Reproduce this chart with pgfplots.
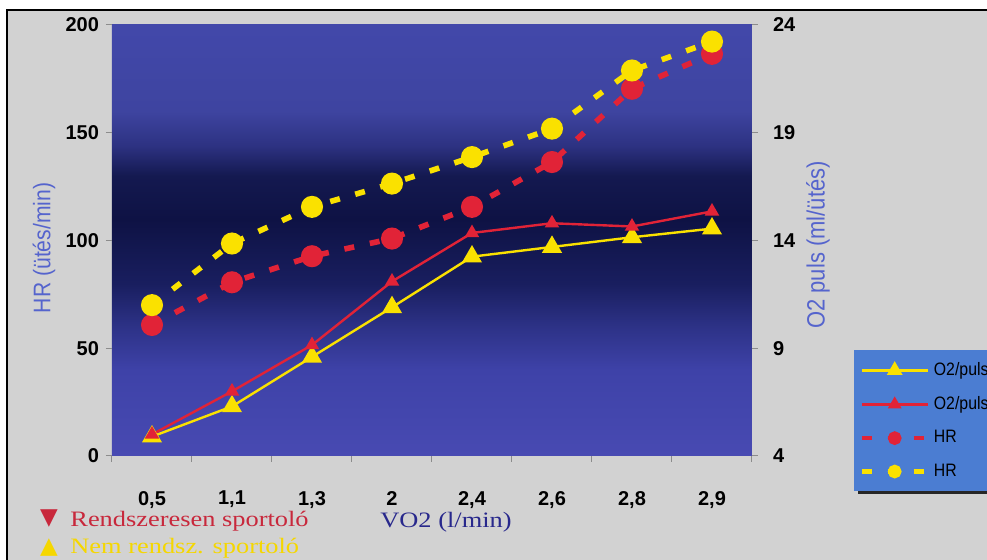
\documentclass[border=0pt]{standalone}
\usepackage{fontspec}
\setmainfont{Liberation Serif}
\setsansfont{Liberation Sans}
\newfontfamily\cond[FakeStretch=0.88]{Liberation Sans}
\newfontfamily\wideserif[FakeStretch=1.2]{Liberation Serif}
\newfontfamily\symf{DejaVu Sans}
\usepackage{pgfplots}
\pgfplotsset{compat=1.18}

\definecolor{hrred}{RGB}{225,35,55}
\definecolor{hryel}{RGB}{250,225,0}
\definecolor{labblue}{RGB}{85,100,205}
\definecolor{vonavy}{RGB}{40,40,140}
\definecolor{txtred}{RGB}{200,40,60}
\definecolor{txtyel}{RGB}{245,215,0}
\definecolor{legblue}{RGB}{75,125,210}
\definecolor{bggray}{RGB}{210,210,210}
\definecolor{sA}{RGB}{72,74,178}
\definecolor{sB}{RGB}{62,66,168}
\definecolor{sC}{RGB}{45,50,135}
\definecolor{sD}{RGB}{25,30,95}
\definecolor{sE}{RGB}{14,18,68}
\definecolor{sF}{RGB}{20,25,80}
\definecolor{sG}{RGB}{45,50,130}
\definecolor{sH}{RGB}{62,68,160}
\definecolor{sI}{RGB}{66,72,170}
\pgfdeclareverticalshading{plotbg}{100bp}{color(0bp)=(sA); color(25bp)=(sA); color(35bp)=(sB); color(40bp)=(sC); color(45bp)=(sD); color(52.5bp)=(sE); color(57.5bp)=(sF); color(61bp)=(sG); color(65bp)=(sH); color(75bp)=(sI); color(100bp)=(sI)}

\begin{document}
\begin{tikzpicture}
\useasboundingbox (0,0) rectangle (493.5pt,280pt);
\begin{scope}[x=0.5pt,y=-0.5pt,yshift=280pt]
  \fill[white] (0,0) rectangle (987,560);
  \fill[bggray] (7,10) rectangle (987,560);
  \draw[black,line width=1pt] (7,560) -- (7,10) -- (987,10);
  \fill[black!85] (858,354) rectangle (995,494);
\end{scope}

\pgfplotsset{
  common/.style={
    at={(56pt,52pt)}, anchor=south west, scale only axis,
    width=320pt, height=215.5pt,
    xmin=-0.5, xmax=7.5,
    axis line style={draw=none},
    tick style={black!45, line width=0.5pt},
    tick align=outside, major tick length=3pt, minor tick length=3pt,
    ticklabel style={font=\sffamily\bfseries\fontsize{10}{12}\selectfont},
    /pgf/number format/assume math mode=true,
    clip=false,
  },
  hrstyle/.style={line width=2.8pt, dash pattern=on 5pt off 8pt, mark=*, mark size=4.1pt, mark options={solid, draw=none, fill=#1}, color=#1},
  o2style/.style 2 args={line width=1.2pt, mark=triangle*, mark size=#2, mark options={solid, draw=none, fill=#1}, color=#1},
  hrleg/.style={line width=2.2pt, dash pattern=on 5pt off 8pt, mark=*, mark size=2.3pt, mark options={solid, draw=none, fill=#1}, color=#1},
}

\begin{axis}[common,
  ymin=0, ymax=200,
  axis y line*=left, axis x line*=bottom,
  xtick={0,...,7},
  xticklabels={{0,5},{1,1},{1,3},{2},{2,4},{2,6},{2,8},{2,9}},
  major x tick style={draw=none},
  minor xtick={-0.5,0.5,...,7.5},
  ytick={0,50,...,200},
  xticklabel style={yshift=-11pt},
  axis background/.style={shade, shading=plotbg},
]
\addplot[hrstyle=hrred] coordinates {(0,60.8) (1,80.6) (2,92.7) (3,100.9) (4,115.6) (5,136.4) (6,170.4) (7,186.6)};
\addplot[hrstyle=hryel] coordinates {(0,70) (1,98.6) (2,115.6) (3,126.4) (4,138.7) (5,151.9) (6,178.9) (7,192.3)};
\end{axis}

\begin{axis}[common,
  ymin=4, ymax=24,
  axis y line*=right, axis x line=none,
  ytick={4,9,14,19,24},
  yticklabel style={xshift=4pt},
  legend style={at={(1.158,0.246)}, anchor=north west, fill=legblue, draw=none,
    font=\cond\fontsize{9}{10}\selectfont, text=black,
    inner xsep=3pt, inner ysep=4pt, row sep=5pt, cells={anchor=west}},
  legend image code/.code={\draw[mark repeat=2,mark phase=2,#1] plot coordinates {(0pt,0pt) (16.5pt,0pt) (33pt,0pt)};},
]
\addplot[o2style={hryel}{4.6pt}, forget plot] coordinates {(0,4.9) (1,6.3) (2,8.6) (3,10.9) (4,13.25) (5,13.7) (6,14.15) (7,14.55)};
\addplot[o2style={hrred}{3pt}, forget plot] coordinates {(0,5.0) (1,7.0) (2,9.15) (3,12.1) (4,14.35) (5,14.8) (6,14.65) (7,15.35)};
\addlegendimage{o2style={hryel}{3.4pt}}
\addlegendentry{O2/puls}
\addlegendimage{o2style={hrred}{2.8pt}}
\addlegendentry{O2/puls}
\addlegendimage{hrleg=hrred}
\addlegendentry{HR}
\addlegendimage{hrleg=hryel}
\addlegendentry{HR}
\end{axis}

\begin{scope}[x=0.5pt,y=-0.5pt,yshift=280pt]
  \node[rotate=90, text=labblue, font=\cond\fontsize{12}{14}\selectfont] at (44,248) {HR (ütés/min)};
  \node[rotate=90, text=labblue, font=\cond\fontsize{12.5}{14}\selectfont] at (818,245) {O2 puls (ml/ütés)};
  \node[anchor=base, text=vonavy, font=\wideserif\fontsize{11}{13}\selectfont, inner sep=0] at (446,528) {VO2 (l/min)};
  \node[text=txtred, font=\symf\fontsize{11.5}{12}\selectfont, inner sep=0] at (49,519) {▼};
  \node[anchor=base west, text=txtred, font=\wideserif\fontsize{11}{13}\selectfont, inner sep=0] at (70,527) {Rendszeresen sportoló};
  \node[text=txtyel, font=\symf\fontsize{11.5}{12}\selectfont, inner sep=0] at (49,548) {▲};
  \node[anchor=base west, text=txtyel, font=\wideserif\fontsize{11}{13}\selectfont, inner sep=0] at (70,554) {Nem rendsz. sportoló};
\end{scope}
\end{tikzpicture}
\end{document}
